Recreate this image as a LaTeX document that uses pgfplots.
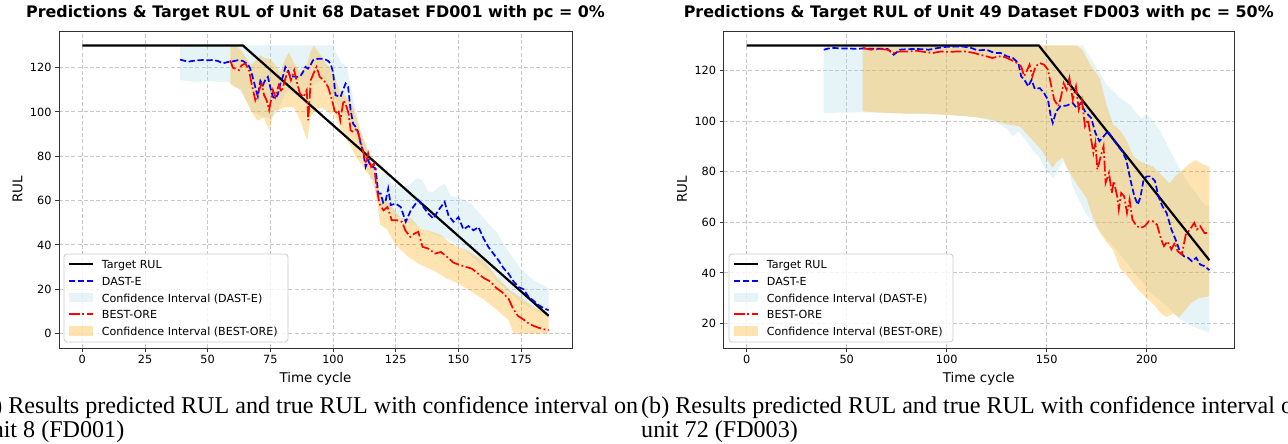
\documentclass[border=0pt]{standalone}
\usepackage{fontspec}
\setmainfont{DejaVu Sans}
\newfontfamily\capfont{Liberation Serif}
\usepackage{pgfplots}
\pgfplotsset{compat=1.18}
\usepgfplotslibrary{fillbetween}
\definecolor{ltblue}{RGB}{173,216,230}
\definecolor{mplorange}{RGB}{255,165,0}
\definecolor{gridc}{RGB}{200,200,200}
\tikzset{
 tgt/.style={black, line width=2.2pt},
 dast/.style={blue, line width=1.7pt, dash pattern=on 6.2pt off 2.7pt},
 best/.style={red, line width=1.7pt, dash pattern=on 10.8pt off 2.7pt on 1.7pt off 2.7pt},
 legtext/.style={anchor=base west, inner sep=0pt, font=\fontsize{11.1}{13}\selectfont},
}
\pgfplotsset{
 rulaxis/.style={
   scale only axis, height=317pt, anchor=south west,
   axis line style={black!80, line width=0.9pt},
   tick align=outside, major tick length=3.9pt,
   tick style={black!80, line width=0.9pt},
   xtick pos=bottom, ytick pos=left,
   grid=major, major grid style={gridc, line width=0.9pt, dash pattern=on 4pt off 2.2pt},
   /pgf/number format/assume math mode=true,
   ticklabel style={font=\fontsize{11.3}{13}\selectfont},
   label style={font=\fontsize{13.4}{15}\selectfont},
   title style={font=\fontsize{15.9}{18}\selectfont\bfseries, at={(axis description cs:0.5,1)}, anchor=base, yshift=7.5pt},
   xlabel={Time cycle}, ylabel={RUL},
   xlabel style={at={(axis description cs:0.5,-0.1095)}, anchor=base},
 },
}
\newcommand{\rullegend}[1]{%
\begin{scope}[xshift=#1]
\draw[black!20, line width=0.8pt, fill=white, fill opacity=0.8, rounded corners=3pt] (64,102) rectangle (288,190);
\draw[tgt] (68.7,179.7) -- (93.3,179.7);
\draw[dast] (68.7,163.0) -- (93.3,163.0);
\fill[ltblue, fill opacity=0.3] (68.7,141.6) rectangle (93.3,151);
\draw[best] (68.7,129.7) -- (93.3,129.7);
\fill[mplorange, fill opacity=0.3] (68.7,108.3) rectangle (93.3,117.7);
\node[legtext] at (101.7,175.3) {Target RUL};
\node[legtext] at (101.7,158.6) {DAST-E};
\node[legtext] at (101.7,141.9) {Confidence Interval (DAST-E)};
\node[legtext] at (101.7,125.3) {BEST-ORE};
\node[legtext] at (101.7,108.6) {Confidence Interval (BEST-ORE)};
\end{scope}}
\begin{document}
\begin{tikzpicture}[x=1pt,y=1pt]
\path (0,0) rectangle (1288pt,444pt);
% ================= LEFT =================
\begin{axis}[rulaxis, width=513pt, at={(59pt,96pt)},
  xmin=-9.3, xmax=195.3, ymin=-6.5, ymax=136.5,
  xtick={0,25,...,175}, ytick={0,20,...,120},
  ylabel style={at={(axis description cs:-0.0809,0.5)}, anchor=center},
  title={Predictions \& Target RUL of Unit 68 Dataset FD001 with pc = 0\%}]
% DAST-E CI
\addplot[name path=lbu, draw=none, forget plot] coordinates {(39,130) (100,130) (101,127) (103.5,122) (105.5,120) (107,112) (108.2,104.8) (110.9,92.7) (113.5,83.7) (116.8,73.2) (118.5,70) (121.5,74.7) (123,68) (125.5,65.7) (128,66) (130.8,67.2) (133.5,70.2) (135.7,69) (138,64) (140,64) (142,66) (144.5,67.7) (147,62) (150,61.6) (155,58.6) (157,56) (160,52) (165,46) (170,37) (175,29) (180,24) (186,20.5)};
\addplot[name path=lbl, draw=none, forget plot] coordinates {(39,114.3) (45,113.5) (50,114) (55,113.5) (58,113.5) (62,111) (66,104) (68,100) (72,98) (75,97) (78,100) (80,106) (82,110) (85,109) (88,106) (90,110) (93,113) (96,114) (99,110) (101,104) (104,100) (106,96) (108,92) (110,86) (112,79) (114,73) (116,66) (118,60) (121,56) (125,53) (130,50) (135,48) (140,45) (145,43) (150,40) (155,35) (160,30) (165,24) (170,19) (175,14) (180,10.5) (186,8)};
\addplot[fill=ltblue, fill opacity=0.3, draw=none, forget plot] fill between[of=lbu and lbl];
% BEST-ORE CI
\addplot[name path=lou, draw=none, forget plot] coordinates {(59,130) (61,130) (63.2,128) (65,125) (67.2,121) (69,123) (71,125.5) (73,124) (75,124) (77,121) (79,118) (81,124) (82.4,127) (84.4,122) (87,117.6) (89.7,122) (91,127) (92.4,130) (93.5,128) (95,125.6) (97.7,121) (99,120) (100.5,116) (102.8,109.3) (105.5,106.3) (108.2,101.8) (110.9,91.2) (113.5,83.7) (116.2,73.2) (118.8,62.7) (122.8,58.2) (126.8,52.2) (130.8,52.2) (134.8,47.6) (138.8,46.1) (142.8,44.6) (146.6,41) (150,39) (153.3,37.6) (160,33) (165.2,25.6) (170.6,19.5) (174.6,16.5) (180,12) (186,9)};
\addplot[name path=lol, draw=none, forget plot] coordinates {(59,112.6) (61,111) (63.2,110.3) (65,106) (67.2,100.5) (69.9,96) (72.5,97.5) (74.5,91.5) (76.5,100.5) (78.5,101) (80.5,102) (84.4,102) (87,96) (89.7,87) (91,97.5) (93,101) (95,102) (97,101) (99,99) (100.1,100) (102.8,92.7) (106.8,85) (109,80) (112.2,74.7) (116.2,68.7) (117.5,60) (118.8,49.2) (121.5,47) (125,40) (130,34.5) (135,31) (140,28.5) (145,25) (150,22.6) (155,19) (160,15.5) (165,11) (170,6) (172,0) (186,0)};
\addplot[fill=mplorange, fill opacity=0.3, draw=none, forget plot] fill between[of=lou and lol];
% Target
\addplot[tgt, forget plot] coordinates {(0,130) (64,130) (186,8)};
% DAST-E
\addplot[dast, forget plot] coordinates {(39,123.6) (41,123.0) (42,122.6) (44,123.0) (46,123.3) (48,123.4) (50,123.3) (52,123.4) (54,123.0) (56,121.9) (58,122.5) (60,122.8) (62,123.3) (64,123.0) (66,121.5) (67,119.5) (68,115.5) (69,111) (70,107) (71,114) (72,112) (73,114.5) (74,115.8) (75,111) (76,106.8) (77,106) (78,108) (79,112.8) (80,116) (81,120.3) (82,119) (83,115.8) (84,116) (86,115.8) (87,116.2) (88,118) (89,120.3) (90,119.5) (91,121) (92,123.3) (94,124) (96,124) (97,123.6) (98,123) (99,121.8) (100,118) (101,107.5) (103,106.8) (104,110) (105,112.8) (106,111.3) (107,100.8) (108,94.7) (109,93.2) (110,91) (111,85.7) (112,82) (113,75.2) (114,78.2) (115,75.5) (116,75.2) (117,74.4) (118,63.2) (119,63.2) (120,59) (121,60) (122,65.4) (123,58) (125,58.6) (127,57.1) (129,50.4) (131,55.6) (134,60.2) (136,57.1) (138,54.1) (140,51.9) (142,55.6) (144.5,59.4) (146,53.4) (148,50.4) (150,52.5) (152,47) (154,48.5) (156,46.6) (158,48) (160,43) (162,39) (164,36) (166,33) (168,29.5) (170,27) (172,23.5) (174,21) (176,20) (178,16.5) (180,14.8) (182,12.8) (184,11.5) (186,10.5)};
% BEST-ORE
\addplot[best, forget plot] coordinates {(59,123.3) (60,120) (61,119.5) (62.5,118.8) (63.5,121) (65,121.8) (66.5,118.8) (67.5,112.8) (69,105.3) (70,108.3) (71.5,112.8) (72.5,107.5) (73.5,105.3) (74.5,100.8) (76,109.8) (77,106.8) (78.3,112) (79.5,109) (80.8,114.3) (82,118.8) (83.2,114.3) (84.5,118.8) (85.7,112.8) (86.8,108.3) (88.2,106.8) (89.5,109.8) (90.1,96.2) (91.1,114.3) (92.2,117.3) (93.4,120.3) (94.7,115.8) (96.3,114.3) (98,111.3) (99.6,105.3) (100.9,99.2) (102.1,100.8) (102.9,96.2) (104.2,105.3) (105.4,102.3) (106.2,99.2) (107,91.7) (108.1,91) (109.5,92.5) (110.8,87.2) (111.9,82.7) (113.1,76.7) (114,81.2) (115.2,75.2) (116.3,76.7) (117.3,66.2) (118.5,58.6) (120.1,55.6) (121.7,57.1) (123.4,51.1) (125.5,51.1) (127.5,50.4) (128.8,46.6) (130.8,43.6) (132.4,45.1) (134,45.9) (135.7,39.1) (138.1,38.3) (140.6,36.1) (143,36.8) (145.5,34.6) (148,32) (150.4,31) (152.9,30.1) (155.3,29.3) (157.8,27.1) (160.2,25) (162.7,23.5) (165.2,20.5) (167.6,18.5) (170.1,15.5) (171.7,11.5) (173.7,8) (175.8,6.5) (178.3,4.3) (181.5,2.8) (184,2) (186,1.5)};
\end{axis}
\rullegend{0pt}
% ================= RIGHT =================
\begin{axis}[rulaxis, width=510.5pt, at={(723.5pt,96pt)},
  xmin=-11.6, xmax=243.6, ymin=10.3, ymax=135.7,
  xtick={0,50,...,200}, ytick={20,40,...,120},
  ylabel style={at={(axis description cs:-0.0813,0.5)}, anchor=center},
  title={Predictions \& Target RUL of Unit 49 Dataset FD003 with pc = 50\%}]
% DAST-E CI
\addplot[name path=rbu, draw=none, forget plot] coordinates {(38.5,130) (168,130) (171,126) (174.8,121.2) (179.8,114.6) (186.5,109.3) (191.5,106.7) (195,103) (197.5,101) (200,103) (203,100) (206.5,96.5) (210,91) (213.2,86) (216.5,81) (219.8,76.7) (223,73) (226,70) (229,67) (231.3,66)};
\addplot[name path=rbl, draw=none, forget plot] coordinates {(38.5,103.3) (58,103.5) (80,103) (100,102.5) (115,101.5) (125,99.5) (130,97) (133,94) (136,96) (140,92) (143,88.5) (146.5,85.6) (149.8,80.3) (153.2,77.6) (158.2,84.3) (161.5,79) (163,74) (169,64) (177,56) (186,48) (194,40) (202,32) (210,27) (216.5,21.6) (222.6,19) (231.3,16.3)};
\addplot[fill=ltblue, fill opacity=0.3, draw=none, forget plot] fill between[of=rbu and rbl];
% BEST-ORE CI
\addplot[name path=rou, draw=none, forget plot] coordinates {(58,130) (165,130) (168,128) (170,125) (172,122) (176.5,117) (180,106) (183.2,98.8) (187,96) (190,92.2) (193.3,86) (197,84) (200,83) (203.3,82) (207,79) (211.3,75.4) (214,78) (217.8,80.7) (221,83) (224.5,84.6) (228,83) (231.3,82)};
\addplot[name path=rol, draw=none, forget plot] coordinates {(58,103.9) (70,103.3) (80,103) (90,103) (100,102.5) (110,102) (120,101) (125,100) (130,98.8) (136.5,98) (140,95) (144.8,90.9) (148,88) (150,85) (153,81.6) (155,84) (158,85.6) (160,82) (163,77.6) (166,74) (169.8,69.7) (173,62) (176.5,56) (180,52) (183.2,49) (186.5,42) (190,39) (193,36) (196,33) (200,30) (204,27) (207,24) (210,22.5) (213,24) (216,22.5) (219,25) (222,28) (226,30) (231.3,30.8)};
\addplot[fill=mplorange, fill opacity=0.3, draw=none, forget plot] fill between[of=rou and rol];
% Target
\addplot[tgt, forget plot] coordinates {(0,130) (146,130) (231.3,45)};
% DAST-E
\addplot[dast, forget plot] coordinates {(38.5,128.3) (41,128.8) (43.6,129) (47,128.8) (51,128.8) (55,128.6) (58,128.8) (62,128.7) (66,128.7) (70.4,128.6) (73.5,126.3) (76.5,128.3) (80,128.5) (85,128.6) (91,128.3) (95,128.9) (99.2,129.4) (103,129.5) (107.4,129.6) (111.5,129.2) (115.6,128) (119.8,128.3) (123.9,127) (127,127) (130,125.7) (133.1,125) (135.8,123) (137.2,117.8) (139.3,115.8) (140.7,113.8) (142.4,116.4) (144,112.8) (146.5,113.1) (148.6,111.2) (150.6,108.5) (152,102) (153,99.3) (154.7,103.9) (156.8,105.9) (159.9,106.2) (163,107.2) (165,105.2) (167,107.2) (169.1,103.9) (172.2,101.3) (174.3,95.4) (176.3,92.1) (178.4,94) (180.5,96) (183.5,92.7) (185.6,90.1) (187.7,88.1) (189.7,84.8) (191.8,76.9) (193.8,70.3) (195.5,67) (196.9,70.3) (198.4,76.9) (200,78.2) (202,78.2) (204.1,76.3) (205.8,70.3) (207.8,66.4) (209.9,63.7) (212.3,57.2) (214.4,53.2) (216.5,48.6) (218.5,46.6) (220.6,46) (222.6,44.6) (224.7,46) (226.7,43.3) (228.8,42.7) (231.3,41.1)};
% BEST-ORE
\addplot[best, forget plot] coordinates {(58,129) (62.1,128.3) (66.3,128.6) (70.4,128.3) (73.5,127) (76.5,127.6) (80.7,127.6) (84.8,127.9) (88.9,127.4) (93,127) (97.1,127.6) (101.2,127.4) (105.3,127.6) (109.5,127.6) (113.6,127) (116.7,126.3) (119.8,125.7) (122.8,125) (125.9,125.7) (129,125.4) (132.1,124.3) (135.2,123) (137.2,121.7) (138.7,117.8) (139.9,119.7) (141.4,122.4) (142.8,117.8) (144.4,121.7) (146.5,123) (148.6,122.4) (150.6,120.4) (151.6,116.4) (153.7,108.5) (155.8,105.9) (157.2,109.9) (158.4,115.1) (159.9,112.5) (161.3,117.1) (163,108.5) (164.6,113.8) (166,104.6) (167.5,108.5) (169.1,98) (170.6,100.6) (172.2,92.7) (173.3,87.5) (174.3,91.4) (175.3,80.9) (177,86.1) (178.4,90.1) (179.4,75.6) (181.1,79.6) (182.5,71.6) (183.5,76.3) (185.2,70.3) (186,65.1) (187.2,71.6) (188.7,70.3) (190.1,63.7) (191.4,69) (192.8,61.1) (194.9,58.5) (196.9,57.8) (199,58.5) (201,60.4) (203.1,60.4) (205.1,59.1) (207.2,53.2) (208.6,50.6) (210.3,52.5) (212.3,49.3) (214,52) (215.4,48.6) (217.5,47.3) (219.5,55.2) (221.6,57.2) (223.7,59.8) (225.1,57.2) (226.7,58.5) (228.8,55.8) (231.3,55.8)};
\end{axis}
\rullegend{665pt}
% ================= CAPTIONS =================
\begin{scope}[every node/.style={overlay, anchor=base west, inner sep=0pt, font=\capfont\fontsize{24.1}{24}\selectfont}]
\node at (-24.6pt,30.5pt) {(a) Results predicted RUL and true RUL with confidence interval on};
\node at (-20.5pt,6.5pt) {unit 8 (FD001)};
\node at (641pt,30.5pt) {(b) Results predicted RUL and true RUL with confidence interval on};
\node at (641pt,6.5pt) {unit 72 (FD003)};
\end{scope}
\end{tikzpicture}
\end{document}
